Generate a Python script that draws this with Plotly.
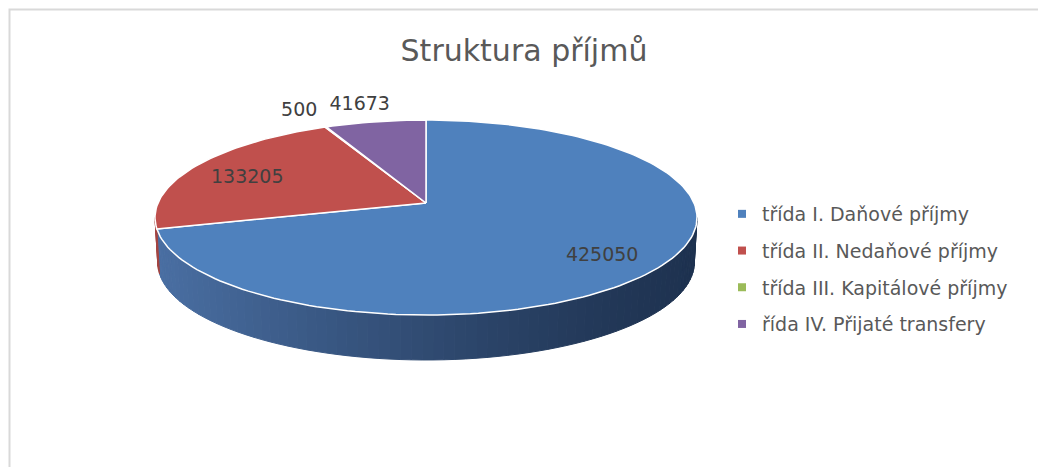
import math
import plotly.graph_objects as go

# ---- data ----
categories = [
    "třída I. Daňové příjmy",
    "třída II. Nedaňové příjmy",
    "třída III. Kapitálové příjmy",
    "řída IV. Přijaté transfery",
]
values = [425050, 133205, 500, 41673]
colors = ["#4F81BD", "#C0504D", "#9BBB59", "#8064A2"]
side_colors_dark = ["#1E3250", "#6E2624", "#5A7030", "#4A3A60"]
side_colors_light = ["#4A6FA3", "#A34542", "#84A04B", "#6D558A"]
title_text = "Struktura příjmů"

# ---- geometry (page-pixel coordinate system; body has 8px margin) ----
W, H = 1046, 467
OFF = 8
cx, cy = 426, 203        # pie centre (projected)
A, B = 268, 95.3         # projected radii
P = 0.149                # perspective strength
depth = 45
BOT_SCALE = 0.99         # bottom rim slightly narrower (perspective)

total = sum(values)


def proj(X, Z, dy=0.0):
    d = 1 + P * Z
    return cx + A * X / d, cy - B * Z / d + dy


def pt(theta_deg, r=1.0, dy=0.0):
    t = math.radians(theta_deg)
    return proj(r * math.sin(t), r * math.cos(t), dy)


def arc(t0, t1, n, dy=0.0, sx=1.0):
    out = []
    for i in range(n + 1):
        x, y = pt(t0 + (t1 - t0) * i / n, 1.0, dy)
        out.append((cx + (x - cx) * sx, y))
    return out


def mix(c1, c2, t):
    c1 = [int(c1[i:i + 2], 16) for i in (1, 3, 5)]
    c2 = [int(c2[i:i + 2], 16) for i in (1, 3, 5)]
    c = [round(c1[k] + (c2[k] - c1[k]) * t) for k in range(3)]
    return "rgb(%d,%d,%d)" % tuple(c)


# slice angles (clockwise from 12 o'clock)
starts, ends = [], []
acc = 0.0
for v in values:
    starts.append(acc / total * 360)
    acc += v
    ends.append(acc / total * 360)

# visible front side between silhouette points
sil = math.degrees(math.acos(-P))
vis0, vis1 = sil, 360 - sil
xmin, xmax = pt(vis1)[0], pt(vis0)[0]

fig = go.Figure()

# ---- sides ----
for i in range(len(values)):
    s0 = max(starts[i], vis0)
    s1 = min(ends[i], vis1)
    if s1 <= s0:
        continue
    nstrips = max(1, int((s1 - s0) / 2))
    for k in range(nstrips):
        t0 = s0 + (s1 - s0) * k / nstrips
        t1 = s0 + (s1 - s0) * (k + 1) / nstrips
        top = arc(t0, t1, 3)
        bot = arc(t1, t0, 3, depth, BOT_SCALE)
        xs = [p[0] for p in top + bot] + [top[0][0]]
        ys = [p[1] for p in top + bot] + [top[0][1]]
        xm = (pt((t0 + t1) / 2)[0] - xmin) / (xmax - xmin)
        tcol = min(1.0, max(0.0, (1 - xm) ** 1.3))
        col = mix(side_colors_dark[i], side_colors_light[i], tcol)
        fig.add_trace(go.Scatter(
            x=xs, y=ys, mode="lines", fill="toself", fillcolor=col,
            line=dict(color=col, width=1), hoverinfo="skip", showlegend=False))

# ---- top faces ----
for i, v in enumerate(values):
    n = max(2, int((ends[i] - starts[i]) / 1.5))
    pts = [(cx, cy)] + arc(starts[i], ends[i], n) + [(cx, cy)]
    fig.add_trace(go.Scatter(
        x=[p[0] for p in pts], y=[p[1] for p in pts], mode="lines",
        fill="toself", fillcolor=colors[i],
        line=dict(color="white", width=1.5),
        name=categories[i], legendgroup=categories[i], showlegend=False,
        hovertemplate="%s: %d<extra></extra>" % (categories[i], v)))

# ---- data labels ----
lab_x, lab_y = [], []
for i, v in enumerate(values):
    mid = (starts[i] + ends[i]) / 2
    frac = v / total
    if frac > 0.1:
        x, y = pt(mid, 0.77)
        y += 5
    else:
        x, y = pt(mid, 1.25)
        x -= 5
        y += 1
    lab_x.append(x)
    lab_y.append(y)
fig.add_trace(go.Scatter(
    x=lab_x, y=lab_y, mode="text", text=[str(v) for v in values],
    textfont=dict(family="DejaVu Sans", size=19, color="#404040"),
    hoverinfo="skip", showlegend=False))

# ---- legend entries ----
for i, c in enumerate(categories):
    fig.add_trace(go.Scatter(
        x=[None], y=[None], mode="markers", name=c, legendgroup=c,
        marker=dict(symbol="square", size=8, color=colors[i])))

fig.update_layout(
    width=W, height=H,
    margin=dict(l=0, r=0, t=0, b=0),
    paper_bgcolor="white", plot_bgcolor="white",
    xaxis=dict(range=[OFF, W + OFF], visible=False, fixedrange=True),
    yaxis=dict(range=[H + OFF, OFF], visible=False, fixedrange=True),
    title=dict(text=title_text, x=(524 - OFF) / W, xanchor="center",
               y=1 - (50 - OFF) / H, yanchor="middle",
               font=dict(family="DejaVu Sans", size=30, color="#595959")),
    legend=dict(x=(722 - OFF) / W, y=1 - (195 - OFF) / H,
                xanchor="left", yanchor="top",
                font=dict(family="DejaVu Sans", size=19, color="#595959"),
                tracegroupgap=9, itemwidth=30, bgcolor="rgba(0,0,0,0)"),
    showlegend=True,
    shapes=[dict(type="rect", xref="x", yref="y", x0=9.5, y0=9.5,
                 x1=W + 20, y1=H + 20,
                 line=dict(color="#D9D9D9", width=2), layer="below")],
)

fig.write_html("out.html")
